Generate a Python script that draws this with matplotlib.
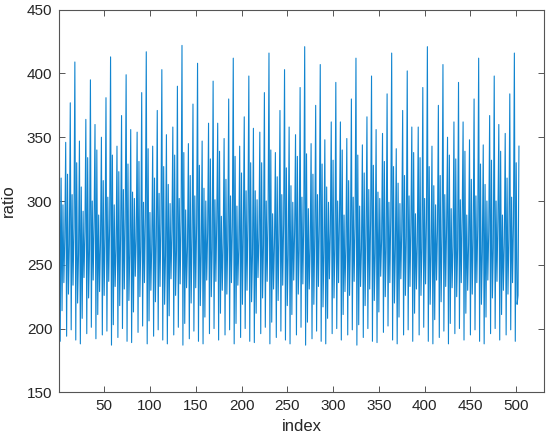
import numpy as np
import matplotlib
matplotlib.use("Agg")
import matplotlib.pyplot as plt

plt.rcParams['font.family'] = ['Liberation Sans', 'DejaVu Sans']

# ratio values (index 1..503)
ratio = [
    363, 190, 318, 214, 297, 236, 271,
    346, 194, 321, 227, 266,
    377, 199, 305, 234, 279,
    409, 191, 330, 220, 258,
    347, 188, 311, 208, 292, 240, 276,
    364, 196, 334, 224, 262,
    395, 201, 300, 238, 284,
    360, 192, 340, 211, 289, 229, 268,
    350, 195, 316, 226, 271,
    381, 198, 303, 237, 281,
    413, 187, 336, 203, 297, 233, 262,
    343, 193, 323, 218, 275,
    367, 200, 309, 231, 286,
    399, 190, 329, 222, 259,
    356, 189, 307, 213, 302, 241, 270,
    354, 197, 331, 225, 264,
    385, 202, 299, 236, 287,
    417, 188, 341, 206, 291, 230, 266,
    343, 194, 318, 221, 273,
    371, 199, 306, 233, 283,
    403, 191, 327, 219, 257,
    352, 188, 313, 210, 298, 239, 277,
    358, 195, 336, 226, 261,
    390, 201, 302, 235, 285,
    422, 187, 338, 204, 293, 232, 264,
    345, 192, 320, 220, 272,
    376, 198, 304, 232, 282,
    408, 190, 328, 218, 260,
    347, 188, 310, 209, 300, 238, 275,
    361, 196, 333, 225, 263,
    394, 200, 301, 237, 286,
    361, 191, 339, 212, 288, 230, 267,
    349, 195, 317, 227, 270,
    380, 199, 304, 236, 280,
    412, 188, 335, 204, 296, 234, 263,
    343, 193, 322, 219, 276,
    366, 200, 308, 230, 285,
    398, 190, 330, 221, 258,
    357, 189, 308, 212, 301, 240, 271,
    354, 196, 330, 224, 265,
    385, 201, 300, 237, 286,
    416, 188, 340, 205, 290, 231, 267,
    338, 193, 319, 222, 274,
    371, 198, 305, 234, 282,
    403, 191, 326, 218, 258,
    358, 188, 312, 211, 299, 238, 276,
    352, 195, 335, 227, 262,
    389, 201, 303, 235, 284,
    421, 187, 337, 205, 294, 231, 263,
    345, 192, 321, 219, 273,
    375, 198, 305, 233, 281,
    407, 190, 329, 217, 261,
    348, 188, 311, 208, 299, 239, 276,
    362, 196, 332, 224, 262,
    393, 200, 300, 236, 287,
    362, 191, 340, 211, 289, 229, 266,
    349, 195, 316, 226, 270,
    380, 199, 303, 237, 280,
    412, 187, 336, 203, 296, 233, 263,
    344, 193, 322, 218, 274,
    366, 200, 309, 231, 285,
    398, 190, 328, 222, 259,
    356, 189, 307, 213, 302, 241, 270,
    353, 197, 331, 225, 264,
    384, 202, 299, 236, 287,
    416, 191, 327, 220, 262,
    341, 188, 314, 209, 298, 239, 277,
    371, 195, 320, 226, 272,
    402, 199, 304, 233, 283,
    358, 190, 338, 212, 290, 231, 268,
    358, 195, 334, 226, 263,
    389, 201, 302, 235, 285,
    421, 190, 327, 219, 259,
    343, 188, 312, 207, 297, 238, 276,
    375, 193, 320, 221, 273,
    407, 198, 305, 233, 281,
    350, 188, 336, 204, 294, 232, 264,
    362, 196, 333, 225, 263,
    393, 200, 301, 236, 286,
    362, 191, 339, 212, 289, 230, 267,
    348, 195, 317, 227, 270,
    380, 199, 304, 236, 280,
    412, 190, 329, 219, 260,
    344, 188, 313, 209, 300, 238, 276,
    367, 196, 332, 224, 263,
    398, 200, 300, 237, 286,
    360, 191, 339, 211, 289, 230, 267,
    353, 195, 318, 227, 271,
    384, 199, 303, 236, 281,
    416, 190, 330, 219, 226,
    343,
]
index = np.arange(1, len(ratio) + 1)

xticks = [50, 100, 150, 200, 250, 300, 350, 400, 450, 500]
yticks = [150, 200, 250, 300, 350, 400, 450]

fig = plt.figure(figsize=(5.5, 4.43), dpi=100)
ax = fig.add_axes([0.1078, 0.1144, 0.8807, 0.8637])

ax.plot(index, ratio, color='#1185D0', linewidth=0.8)

ax.set_xlim(1, 530)
ax.set_ylim(150, 450)
ax.set_xticks(xticks)
ax.set_yticks(yticks)

grey = '#262626'
for s in ax.spines.values():
    s.set_color('#555555')
    s.set_linewidth(0.8)
ax.tick_params(direction='in', length=4.5, width=0.7, color='#555555',
               top=True, right=True, labelsize=11, labelcolor=grey, pad=5)

ax.set_xlabel('index', fontsize=12, color=grey, labelpad=4)
ax.set_ylabel('ratio', fontsize=12, color=grey, labelpad=8)

fig.savefig('out.png', dpi=100)
